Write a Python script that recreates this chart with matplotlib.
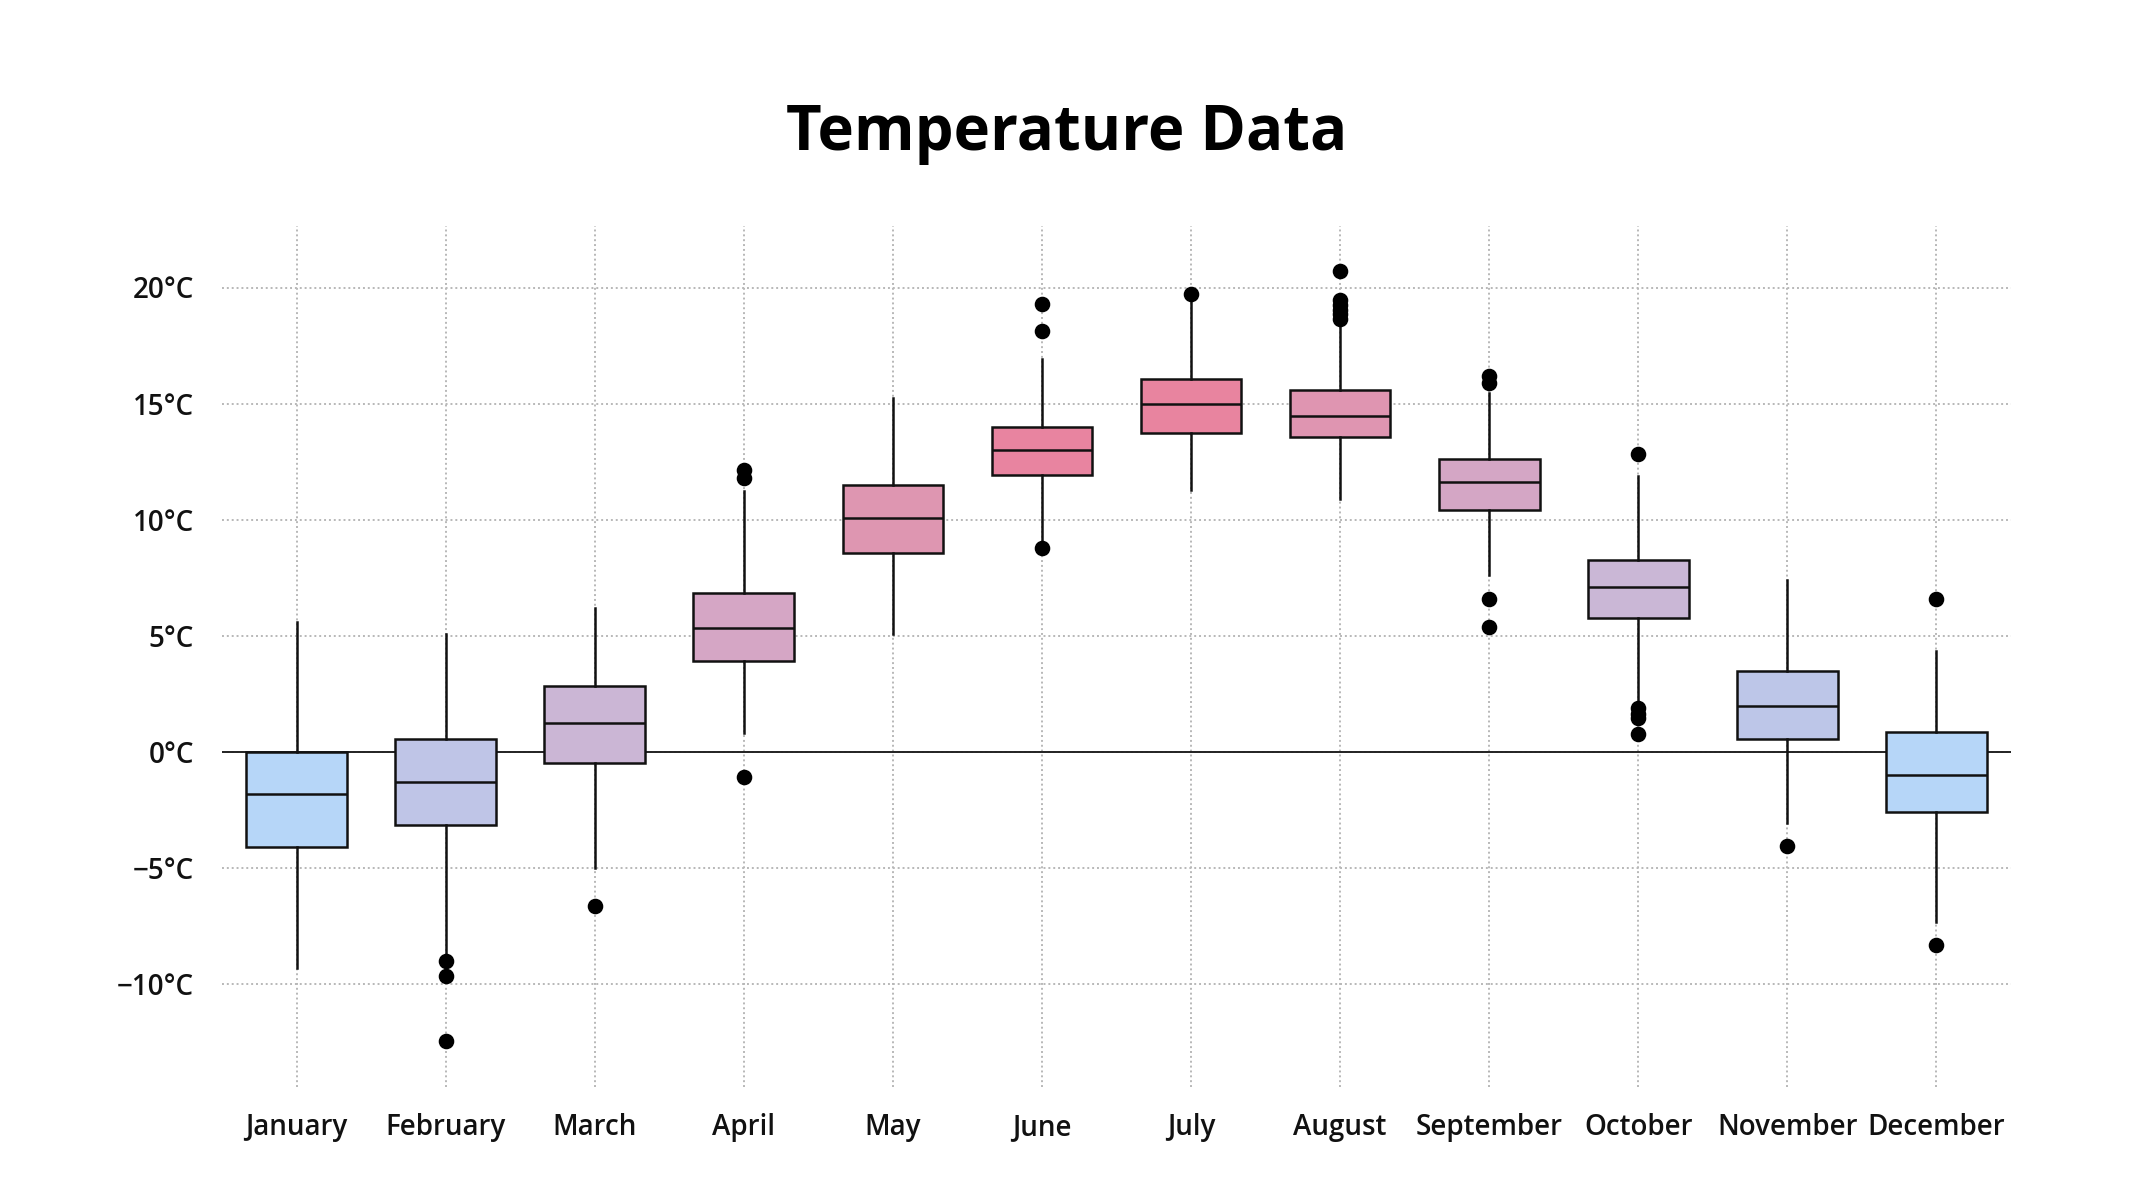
import matplotlib
matplotlib.use("Agg")
import matplotlib.pyplot as plt

months = ["January", "February", "March", "April", "May", "June", "July",
          "August", "September", "October", "November", "December"]
q1 = [-4.11, -3.17, -0.50, 3.89, 8.54, 11.92, 13.74, 13.57, 10.42, 5.77, 0.54, -2.60]
med = [-1.81, -1.31, 1.24, 5.32, 10.07, 13.00, 14.98, 14.45, 11.61, 7.10, 1.98, -0.99]
q3 = [0.00, 0.56, 2.85, 6.83, 11.49, 14.00, 16.04, 15.58, 12.62, 8.27, 3.47, 0.84]
whislo = [-9.33, -8.75, -5.00, 0.82, 5.07, 9.10, 11.29, 10.89, 7.62, 2.15, -3.09, -7.35]
whishi = [5.57, 5.07, 6.19, 11.25, 15.25, 16.90, 19.40, 18.35, 15.45, 11.88, 7.38, 4.33]
fliers = [
    [],
    [-9.00, -9.68, -12.45],
    [-6.63],
    [11.80, 12.15, -1.11],
    [],
    [8.78, 18.14, 19.28],
    [19.72],
    [18.65, 18.85, 19.05, 19.25, 19.45, 20.69],
    [15.88, 16.20, 6.58, 5.35],
    [12.82, 1.86, 1.64, 1.43, 0.78],
    [-4.06],
    [6.56, -8.34],
]
yticks = [-10, -5, 0, 5, 10, 15, 20]
ytick_labels = ["\u221210°C", "\u22125°C", "0°C", "5°C", "10°C", "15°C", "20°C"]

colors = ["#b6d6f8", "#bfc5e7", "#cbb6d5", "#d5a6c5", "#de96b1", "#e884a0",
          "#e8849f", "#df95b1", "#d4a6c5", "#cab7d6", "#bdc6e8", "#b6d6f8"]

plt.rcParams["font.family"] = ["Open Sans", "DejaVu Sans"]

fig = plt.figure(figsize=(2133 / 200, 1200 / 200), dpi=200)
ax = fig.add_axes([222 / 2133, 1 - 1087 / 1200, (2011 - 222) / 2133, (1087 - 226) / 1200])

stats = []
for i in range(len(months)):
    stats.append(dict(label=months[i], q1=q1[i], med=med[i], q3=q3[i],
                      whislo=whislo[i], whishi=whishi[i], fliers=fliers[i]))

positions = list(range(1, len(months) + 1))
bp = ax.bxp(stats, positions=positions, widths=0.675, patch_artist=True,
            showcaps=False,
            boxprops=dict(edgecolor="#111111", linewidth=0.9),
            medianprops=dict(color="#111111", linewidth=0.9),
            whiskerprops=dict(color="#111111", linewidth=0.9),
            flierprops=dict(marker="o", markerfacecolor="black", markeredgecolor="black",
                            markersize=4.6, linestyle="none"),
            zorder=3)
for patch, c in zip(bp["boxes"], colors):
    patch.set_facecolor(c)

ax.axhline(0, color="#222222", linewidth=0.7, zorder=2)

ax.set_xlim(0.5, len(months) + 0.5)
ax.set_ylim(-14.45, 22.65)
ax.set_yticks(yticks)
ax.set_yticklabels(ytick_labels)
ax.set_xticks(positions)
ax.set_xticklabels(months)

ax.grid(True, linestyle=(0, (1, 1.5)), color="#b8b8b8", linewidth=0.7)
ax.set_axisbelow(True)
for s in ax.spines.values():
    s.set_visible(False)
ax.tick_params(axis="both", length=0, labelsize=10, colors="#111111")
ax.tick_params(axis="x", pad=9.5)
ax.tick_params(axis="y", pad=10)
for lab in ax.get_xticklabels() + ax.get_yticklabels():
    lab.set_fontweight("semibold")

fig.text(0.5, 1 - 150 / 1200, "Temperature Data", ha="center", va="baseline",
         fontsize=22.2, fontweight="bold", color="black")

fig.savefig("out.png", dpi=200, facecolor="white")
